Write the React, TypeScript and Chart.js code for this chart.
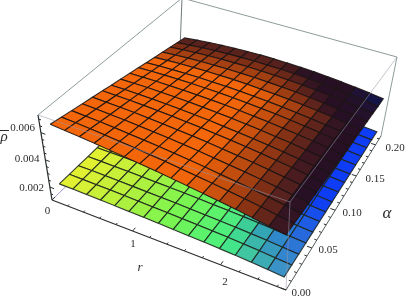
import React, { useEffect, useRef } from "react";
import { Chart, registerables } from "chart.js";

Chart.register(...registerables);

const rValues = [0.1, 0.27, 0.44, 0.61, 0.78, 0.95, 1.12, 1.29, 1.46, 1.63, 1.8, 1.97, 2.14, 2.31, 2.48, 2.65];
const aValues = [0.003, 0.017, 0.03, 0.044, 0.058, 0.072, 0.085, 0.099, 0.113, 0.127, 0.14, 0.154, 0.168, 0.182, 0.195, 0.209];

// surface heights, in thousandths, one row per a value
const upperP = [
  [6.68,6.60,6.51,6.41,6.30,6.19,6.07,5.95,5.81,5.67,5.52,5.37,5.21,5.04,4.86,4.68],
  [6.53,6.47,6.39,6.30,6.20,6.10,5.99,5.88,5.74,5.61,5.47,5.32,5.17,5.00,4.82,4.65],
  [6.39,6.33,6.27,6.19,6.10,6.01,5.91,5.80,5.68,5.55,5.41,5.27,5.12,4.96,4.79,4.61],
  [6.24,6.20,6.14,6.08,6.00,5.92,5.83,5.73,5.61,5.49,5.36,5.23,5.08,4.92,4.75,4.58],
  [6.10,6.06,6.02,5.97,5.90,5.83,5.74,5.65,5.55,5.43,5.31,5.18,5.04,4.88,4.72,4.55],
  [5.95,5.93,5.90,5.86,5.80,5.74,5.66,5.58,5.48,5.37,5.26,5.13,4.99,4.84,4.68,4.51],
  [5.80,5.80,5.78,5.75,5.70,5.65,5.58,5.51,5.41,5.31,5.20,5.08,4.95,4.80,4.65,4.48],
  [5.66,5.66,5.66,5.63,5.60,5.56,5.50,5.43,5.35,5.25,5.15,5.03,4.91,4.76,4.61,4.45],
  [5.51,5.53,5.53,5.52,5.50,5.46,5.42,5.36,5.28,5.20,5.10,4.99,4.86,4.73,4.58,4.41],
  [5.37,5.39,5.41,5.41,5.40,5.37,5.34,5.28,5.22,5.14,5.05,4.94,4.82,4.69,4.54,4.38],
  [5.22,5.26,5.29,5.30,5.30,5.28,5.26,5.21,5.15,5.08,4.99,4.89,4.78,4.65,4.51,4.35],
  [5.07,5.13,5.17,5.19,5.20,5.19,5.18,5.14,5.08,5.02,4.94,4.84,4.73,4.61,4.47,4.31],
  [4.93,4.99,5.05,5.08,5.10,5.10,5.09,5.06,5.02,4.96,4.89,4.79,4.69,4.57,4.44,4.28],
  [4.78,4.86,4.92,4.97,5.00,5.01,5.01,4.99,4.95,4.90,4.83,4.75,4.65,4.53,4.40,4.25],
  [4.64,4.72,4.80,4.86,4.90,4.92,4.93,4.91,4.89,4.84,4.78,4.70,4.60,4.49,4.37,4.21],
  [4.49,4.59,4.68,4.75,4.80,4.83,4.85,4.84,4.82,4.78,4.73,4.65,4.56,4.45,4.33,4.18],
];
const lowerP = [
  [2.30,2.29,2.27,2.25,2.22,2.19,2.16,2.13,2.09,2.05,2.01,1.96,1.91,1.84,1.76,1.68],
  [2.30,2.29,2.27,2.25,2.22,2.19,2.16,2.13,2.09,2.05,2.01,1.96,1.90,1.83,1.75,1.67],
  [2.30,2.29,2.27,2.25,2.22,2.19,2.16,2.13,2.09,2.04,2.00,1.95,1.90,1.83,1.75,1.67],
  [2.30,2.29,2.27,2.25,2.22,2.19,2.16,2.13,2.09,2.04,2.00,1.95,1.89,1.82,1.74,1.66],
  [2.30,2.29,2.27,2.25,2.22,2.19,2.16,2.12,2.08,2.04,1.99,1.94,1.89,1.81,1.73,1.65],
  [2.30,2.29,2.27,2.25,2.22,2.19,2.16,2.12,2.08,2.03,1.99,1.94,1.88,1.81,1.73,1.65],
  [2.30,2.29,2.27,2.25,2.22,2.19,2.16,2.12,2.08,2.03,1.99,1.93,1.87,1.80,1.72,1.64],
  [2.30,2.29,2.27,2.26,2.23,2.19,2.15,2.12,2.08,2.03,1.98,1.93,1.87,1.80,1.72,1.63],
  [2.30,2.29,2.27,2.26,2.23,2.19,2.15,2.12,2.08,2.03,1.98,1.92,1.86,1.79,1.71,1.63],
  [2.30,2.29,2.27,2.26,2.23,2.19,2.15,2.12,2.08,2.03,1.97,1.92,1.86,1.79,1.71,1.62],
  [2.30,2.29,2.27,2.26,2.23,2.19,2.15,2.11,2.07,2.02,1.97,1.91,1.85,1.78,1.70,1.61],
  [2.30,2.29,2.27,2.26,2.23,2.19,2.15,2.11,2.07,2.02,1.96,1.91,1.84,1.77,1.69,1.61],
  [2.30,2.29,2.27,2.26,2.23,2.19,2.15,2.11,2.07,2.02,1.96,1.90,1.84,1.77,1.69,1.60],
  [2.30,2.29,2.27,2.26,2.23,2.19,2.15,2.11,2.07,2.01,1.96,1.90,1.83,1.76,1.68,1.59],
  [2.30,2.29,2.27,2.26,2.23,2.19,2.15,2.11,2.07,2.01,1.95,1.89,1.83,1.76,1.68,1.59],
  [2.30,2.29,2.27,2.26,2.23,2.19,2.15,2.11,2.07,2.01,1.95,1.89,1.82,1.75,1.67,1.58],
];

const rMajorTicks = [0, 1, 2];
const rMinorTicks = [0.2, 0.4, 0.6, 0.8, 1.2, 1.4, 1.6, 1.8, 2.2, 2.4, 2.6];
const aMajorTicks = [0, 0.05, 0.1, 0.15, 0.2];
const aMinorTicks = [0.01, 0.02, 0.03, 0.04, 0.06, 0.07, 0.08, 0.09, 0.11, 0.12, 0.13, 0.14, 0.16, 0.17, 0.18, 0.19, 0.21];
const pMajorTicks = [0.002, 0.004, 0.006];
const pMinorTicks = [0.0015, 0.0025, 0.003, 0.0035, 0.0045, 0.005, 0.0055, 0.0065, 0.007];

const tickTexts = ["0.006", "0.004", "0.002", "0", "1", "2", "0.00", "0.05", "0.10", "0.15", "0.20"];

// domain of the plot box
const R_MAX = 2.69;
const A_MAX = 0.215;
const P_MIN = 0.00105;
const P_MAX = 0.0073;

type Pt = [number, number];

function homography(p0: Pt, p1: Pt, p2: Pt, p3: Pt) {
  const dx1 = p1[0] - p2[0], dx2 = p3[0] - p2[0], sx = p0[0] - p1[0] + p2[0] - p3[0];
  const dy1 = p1[1] - p2[1], dy2 = p3[1] - p2[1], sy = p0[1] - p1[1] + p2[1] - p3[1];
  const den = dx1 * dy2 - dx2 * dy1;
  const g = (sx * dy2 - dx2 * sy) / den;
  const h = (dx1 * sy - sx * dy1) / den;
  const a = p1[0] - p0[0] + g * p1[0], b = p3[0] - p0[0] + h * p3[0], c = p0[0];
  const d = p1[1] - p0[1] + g * p1[1], e = p3[1] - p0[1] + h * p3[1], f = p0[1];
  return (u: number, v: number): Pt => {
    const q = g * u + h * v + 1;
    return [(a * u + b * v + c) / q, (d * u + e * v + f) / q];
  };
}

const floorMap = homography([52, 200], [286, 290], [381, 136], [179, 76]);
const roofMap = homography([38, 115], [290, 202], [397, 57], [182, -2]);

function project(r: number, a: number, p: number) {
  const u = r / R_MAX, v = a / A_MAX, w = (p - P_MIN) / (P_MAX - P_MIN);
  const f = floorMap(u, v), t = roofMap(u, v);
  return { x: f[0] + (t[0] - f[0]) * w, y: f[1] + (t[1] - f[1]) * w };
}

const clamp = (x: number) => Math.max(0, Math.min(1, x));
const mix = (c1: number[], c2: number[], m: number) => c1.map((v, i) => v + (c2[i] - v) * m);
const css = (c: number[]) => `rgb(${Math.round(c[0])},${Math.round(c[1])},${Math.round(c[2])})`;

function upperColor(s: number, t: number) {
  const m = clamp(
    Math.pow(clamp((s - 0.55 + 0.08 * Math.min(1, t * 2)) / 0.45), 1.5) +
      (Math.max(0, t - 0.7) / 0.3) * 0.85,
  );
  const dark = mix([40, 16, 36], [14, 22, 84], Math.pow(t, 10) * clamp((s - 0.85) / 0.1));
  const mid = [140, 52, 20];
  const bright = [244, 102, 10];
  return css(m < 0.5 ? mix(bright, mid, m / 0.5) : mix(mid, dark, (m - 0.5) / 0.5));
}

function lowerColor(s: number, t: number) {
  const stops = [
    [232, 240, 48],
    [185, 240, 60],
    [120, 245, 80],
    [70, 240, 130],
    [60, 140, 205],
  ];
  const x = s * (stops.length - 1);
  const i = Math.min(stops.length - 2, Math.floor(x));
  const base = mix(stops[i], stops[i + 1], x - i);
  return css(mix(base, [15, 60, 245], clamp((s - 0.68) / 0.2) * clamp(t * 2.2)));
}

function surfaceSets(grid: number[][], color: (s: number, t: number) => string, edge: string) {
  const out: any[] = [];
  const nr = rValues.length - 1, na = aValues.length - 1;
  for (let j = na - 1; j >= 0; j--) {
    for (let i = 0; i < nr; i++) {
      const pt = (ii: number, jj: number) => project(rValues[ii], aValues[jj], grid[jj][ii] / 1000);
      out.push({
        data: [pt(i, j), pt(i + 1, j), pt(i + 1, j + 1), pt(i, j + 1), pt(i, j)],
        fill: "shape",
        backgroundColor: color((i + 0.5) / nr, (j + 0.5) / na),
        borderColor: edge,
        borderWidth: 1.1,
        pointRadius: 0,
        tension: 0,
      });
    }
  }
  return out;
}

const seg = (a: { x: number; y: number }, b: { x: number; y: number }, color: string, width = 1) => ({
  data: [a, b],
  fill: false,
  borderColor: color,
  borderWidth: width,
  pointRadius: 0,
  tension: 0,
});

const corner = (u: number, v: number, top: boolean) =>
  project(u * R_MAX, v * A_MAX, top ? P_MAX : P_MIN);

function buildDatasets() {
  const boxGrey = "#8e9c9c";
  const front = "rgba(150,150,170,0.55)";
  const axisDark = "#2a2e30";
  const sets: any[] = [];
  // back of the box
  sets.push(seg(corner(0, 0, true), corner(0, 1, true), boxGrey));
  sets.push(seg(corner(0, 1, true), corner(1, 1, true), boxGrey));
  sets.push(seg(corner(0, 1, true), corner(0, 1, false), "#6f7c7c"));
  sets.push(seg(corner(1, 1, true), corner(1, 1, false), boxGrey));
  sets.push(seg(corner(0, 0, false), corner(0, 0, true), axisDark, 1.25));
  sets.push(seg(corner(0, 0, false), corner(0, 0.1, false), "#9a9ac8"));
  // surfaces
  sets.push(...surfaceSets(lowerP, lowerColor, "rgba(30,38,30,0.9)"));
  sets.push(...surfaceSets(upperP, upperColor, "rgba(28,20,20,0.9)"));
  // front of the box
  sets.push(seg(corner(0, 0, true), corner(1, 0, true), front));
  sets.push(seg(corner(1, 0, true), corner(1, 1, true), front));
  sets.push(seg(corner(1, 0, true), corner(1, 0, false), front));
  sets.push(seg(corner(0, 0, false), corner(1, 0, false), axisDark, 1.25));
  sets.push(seg(corner(1, 0, false), corner(1, 1, false), "#555c5c"));
  // ticks
  const rTick = (r: number, len: number) =>
    seg(project(r, 0, P_MIN), project(r, len * A_MAX, P_MIN), axisDark);
  const aTick = (a: number, len: number) =>
    seg(project(R_MAX, a, P_MIN), project(R_MAX * (1 - len), a, P_MIN), axisDark);
  const pTick = (p: number, len: number) =>
    seg(project(0, 0, p), project(len * R_MAX, 0, p), axisDark);
  rMajorTicks.forEach((r) => sets.push(rTick(r, 0.02)));
  rMinorTicks.forEach((r) => sets.push(rTick(r, 0.01)));
  aMajorTicks.forEach((a) => sets.push(aTick(a, 0.02)));
  aMinorTicks.forEach((a) => sets.push(aTick(a, 0.01)));
  pMajorTicks.forEach((p) => sets.push(pTick(p, 0.02)));
  pMinorTicks.forEach((p) => sets.push(pTick(p, 0.01)));
  return sets.reverse();
}

const labelSpots: [string, number, number][] = [
  [tickTexts[0], 22.5, 128],
  [tickTexts[1], 27, 159.5],
  [tickTexts[2], 31.5, 188],
  [tickTexts[3], 47.5, 211],
  [tickTexts[4], 133, 244],
  [tickTexts[5], 225, 282],
  [tickTexts[6], 301, 293],
  [tickTexts[7], 328, 250],
  [tickTexts[8], 352, 213],
  [tickTexts[9], 375, 179],
  [tickTexts[10], 395, 148],
];

const textPlugin = {
  id: "axisText",
  afterDatasetsDraw(chart: any) {
    const { ctx, scales } = chart;
    const X = (v: number) => scales.x.getPixelForValue(v);
    const Y = (v: number) => scales.y.getPixelForValue(v);
    ctx.save();
    ctx.fillStyle = "#2c2c2c";
    ctx.textAlign = "center";
    ctx.textBaseline = "middle";
    ctx.font = "11px 'Liberation Serif'";
    labelSpots.forEach(([t, x, y]) => ctx.fillText(t, X(x), Y(y)));
    ctx.font = "italic 13px 'Liberation Serif'";
    ctx.fillText("r", X(140), Y(268));
    ctx.font = "italic 17px 'Liberation Serif'";
    ctx.fillText("α", X(387), Y(214));
    ctx.font = "italic 15px 'Liberation Serif'";
    ctx.fillText("ρ", X(4), Y(137));
    ctx.strokeStyle = "#2c2c2c";
    ctx.lineWidth = 1;
    ctx.beginPath();
    ctx.moveTo(X(0), Y(130.5));
    ctx.lineTo(X(9), Y(130.5));
    ctx.stroke();
    ctx.restore();
  },
};

export default function App() {
  const ref = useRef<HTMLCanvasElement | null>(null);
  useEffect(() => {
    const chart = new Chart(ref.current as HTMLCanvasElement, {
      type: "line",
      data: { datasets: buildDatasets() },
      options: {
        animation: false,
        responsive: false,
        events: [],
        layout: { padding: 0 },
        plugins: { legend: { display: false }, tooltip: { enabled: false } },
        scales: {
          x: { type: "linear", min: 0, max: 407, display: false },
          y: { type: "linear", min: 0, max: 300, reverse: true, display: false },
        },
      },
      plugins: [textPlugin],
    } as any);
    return () => chart.destroy();
  }, []);
  return (
    <div style={{ position: "fixed", left: 0, top: 0, width: 407, height: 300, background: "#fff", overflow: "hidden" }}>
      <canvas ref={ref} width={407} height={300} style={{ display: "block", filter: "blur(0.45px)" }} />
    </div>
  );
}
